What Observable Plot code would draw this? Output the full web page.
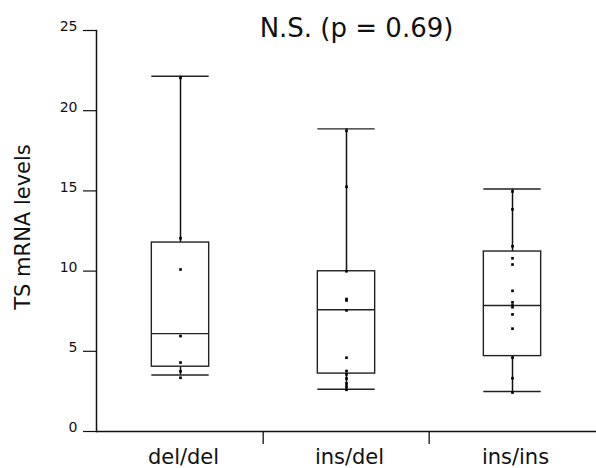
<!DOCTYPE html>
<html><head><meta charset="utf-8">
<script src="https://cdn.jsdelivr.net/npm/d3@7"></script>
<script src="https://cdn.jsdelivr.net/npm/@observablehq/plot@0.6"></script>
<style>body{margin:0;background:#fff} svg{display:block}</style>
</head><body><div id="chart"></div>
<script>
const categories = ["del/del", "ins/del", "ins/ins"];
const whiskerLow = [3.52, 2.63, 2.49];
const q1 = [4.04, 3.61, 4.70];
const median = [6.10, 7.59, 7.86];
const q3 = [11.78, 9.99, 11.22];
const whiskerHigh = [22.15, 18.87, 15.12];
const delDelPoints = [22.05, 12.05, 10.1, 5.95, 4.3, 3.75, 3.35];
const insDelPoints = [18.75, 15.26, 9.99, 8.26, 8.17, 7.55, 4.6, 3.77, 3.57, 3.3, 2.99, 2.8, 2.6];
const insInsPoints = [14.97, 13.85, 11.55, 10.8, 10.41, 8.77, 8.05, 7.86, 7.75, 7.3, 6.41, 4.6, 3.32, 2.43];
const yTicks = [0, 5, 10, 15, 20, 25];
const title = "N.S. (p = 0.69)";
const yLabel = "TS mRNA levels";

const boxes = categories.map((c, i) => ({cat: c, lo: whiskerLow[i], q1: q1[i], med: median[i], q3: q3[i], hi: whiskerHigh[i]}));
const pointSets = [delDelPoints, insDelPoints, insInsPoints];
const points = pointSets.flatMap((arr, i) => arr.map(v => ({cat: categories[i], v})));

const W = 596, H = 468, mL = 96, mR = 0, mT = 30, mB = 37;
const bw = (W - mL - mR) / categories.length;
const inset = (bw - 58) / 2;
const ink = "#111";

const chart = Plot.plot({
  width: W, height: H,
  marginLeft: mL, marginRight: mR, marginTop: mT, marginBottom: mB,
  style: {fontFamily: "DejaVu Sans", color: ink, background: "#fff", overflow: "visible"},
  x: {domain: categories, padding: 0, axis: null},
  y: {domain: [0, 25], axis: null},
  marks: [
    Plot.ruleX(boxes, {x: "cat", y1: "lo", y2: "hi", stroke: ink, strokeWidth: 1.5}),
    Plot.barY(boxes, {x: "cat", y1: "q1", y2: "q3", fill: "white", stroke: "#222", strokeWidth: 1.4, insetLeft: inset, insetRight: inset}),
    Plot.tickY(boxes, {x: "cat", y: "med", stroke: "#222", strokeWidth: 1.4, insetLeft: inset, insetRight: inset}),
    Plot.tickY(boxes, {x: "cat", y: "lo", stroke: "#222", strokeWidth: 1.4, insetLeft: inset, insetRight: inset}),
    Plot.tickY(boxes, {x: "cat", y: "hi", stroke: "#222", strokeWidth: 1.4, insetLeft: inset, insetRight: inset}),
    Plot.dot(points, {x: "cat", y: "v", symbol: "square", r: 1.5, fill: "#000", stroke: null}),
    Plot.ruleY([0], {stroke: ink, strokeWidth: 1.5}),
    Plot.frame({anchor: "left", stroke: ink, strokeWidth: 1.5}),
    Plot.ruleX(categories.slice(1), {x: d => d, y1: 0, y2: 0, dx: -bw / 2, insetBottom: -13, stroke: ink, strokeWidth: 1.3}),
    Plot.axisY({ticks: yTicks, tickSize: 13, text: null, strokeWidth: 1.2, label: null}),
    Plot.axisY({ticks: yTicks, tickSize: 0, tickPadding: 19, dy: -3.5, fontSize: 14, label: null}),
    Plot.axisX({tickSize: 0, tickPadding: 18, fontSize: 21, dx: 3, label: null}),
    Plot.text([title], {frameAnchor: "top", lineAnchor: "bottom", dx: 10, dy: 6, fontSize: 26, fill: ink}),
    Plot.text([yLabel], {frameAnchor: "left", textAnchor: "middle", rotate: -90, lineAnchor: "bottom", dx: -66.5, dy: -4, fontSize: 21, fill: ink})
  ]
});
document.getElementById("chart").appendChild(chart);
</script>
</body></html>
